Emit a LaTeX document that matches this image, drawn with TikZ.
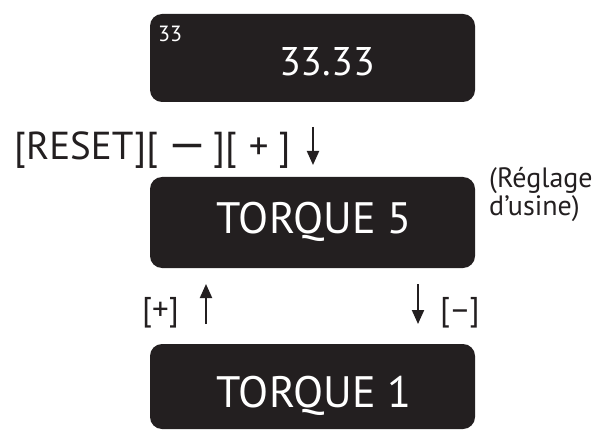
\documentclass[tikz,border=0pt]{standalone}
\usepackage{fontspec}
\setmainfont{PT Sans}
\usetikzlibrary{arrows.meta}
\definecolor{panel}{HTML}{231F20}
\tikzset{
  lcd/.style={fill=panel,rounded corners=12pt,minimum width=325pt,inner sep=0pt},
  lcdtext/.style={text=white,anchor=base,inner sep=0pt},
  keytext/.style={text=panel,anchor=base west,inner sep=0pt},
  keyarrow/.style={->,line width=2pt,draw=panel},
}
\begin{document}
\begin{tikzpicture}[x=1pt,y=-1pt,>={Triangle[length=14pt,width=12pt]}]
        \useasboundingbox (0,0) rectangle (601,430);
        % displays
        \node[lcd,minimum height=88pt] (disp) at (312.5,58) {};
        \node[lcd,minimum height=91pt] (tq5) at (312.5,222.5) {};
        \node[lcd,minimum height=85pt] (tq1) at (312.5,386.5) {};
        \node[lcdtext,anchor=base west,font=\fontsize{22pt}{22pt}\selectfont] (dispsmall) at (158,42) {33};
        \node[lcdtext,font=\fontsize{40pt}{40pt}\selectfont] (dispval) at (327,76) {33.33};
        \node[lcdtext,font=\fontsize{44pt}{44pt}\selectfont] (tq5txt) at (314,233) {TORQUE 5};
        \node[lcdtext,font=\fontsize{44pt}{44pt}\selectfont] (tq1txt) at (314,407) {TORQUE 1};
        % keys
        \node[keytext,font=\fontsize{39pt}{39pt}\selectfont] (reset) at (14,160)
          {[RESET][\hspace{9pt}\scalebox{1.25}[1.2]{—}\hspace{6pt}][\hspace{12pt}+\hspace{10pt}]};
        \node[keytext,align=left,font=\fontsize{28pt}{25pt}\selectfont] (factory) at (489,215) {(Réglage\\d’usine)};
        \node[keytext,font=\fontsize{33pt}{33pt}\selectfont] (plus) at (142,320) {[+]};
        \node[keytext,font=\fontsize{33pt}{33pt}\selectfont] (minus) at (440,320) {[–]};
        % arrows
        \coordinate (rsttop) at (313,127);
        \coordinate (rstbot) at (313,165);
        \coordinate (uptop) at (206,284);
        \coordinate (upbot) at (206,324);
        \coordinate (dntop) at (418,284);
        \coordinate (dnbot) at (418,324);
        \draw[keyarrow] (rsttop) -- (rstbot);
        \draw[keyarrow] (upbot) -- (uptop);
        \draw[keyarrow] (dntop) -- (dnbot);
      \end{tikzpicture}
\end{document}
